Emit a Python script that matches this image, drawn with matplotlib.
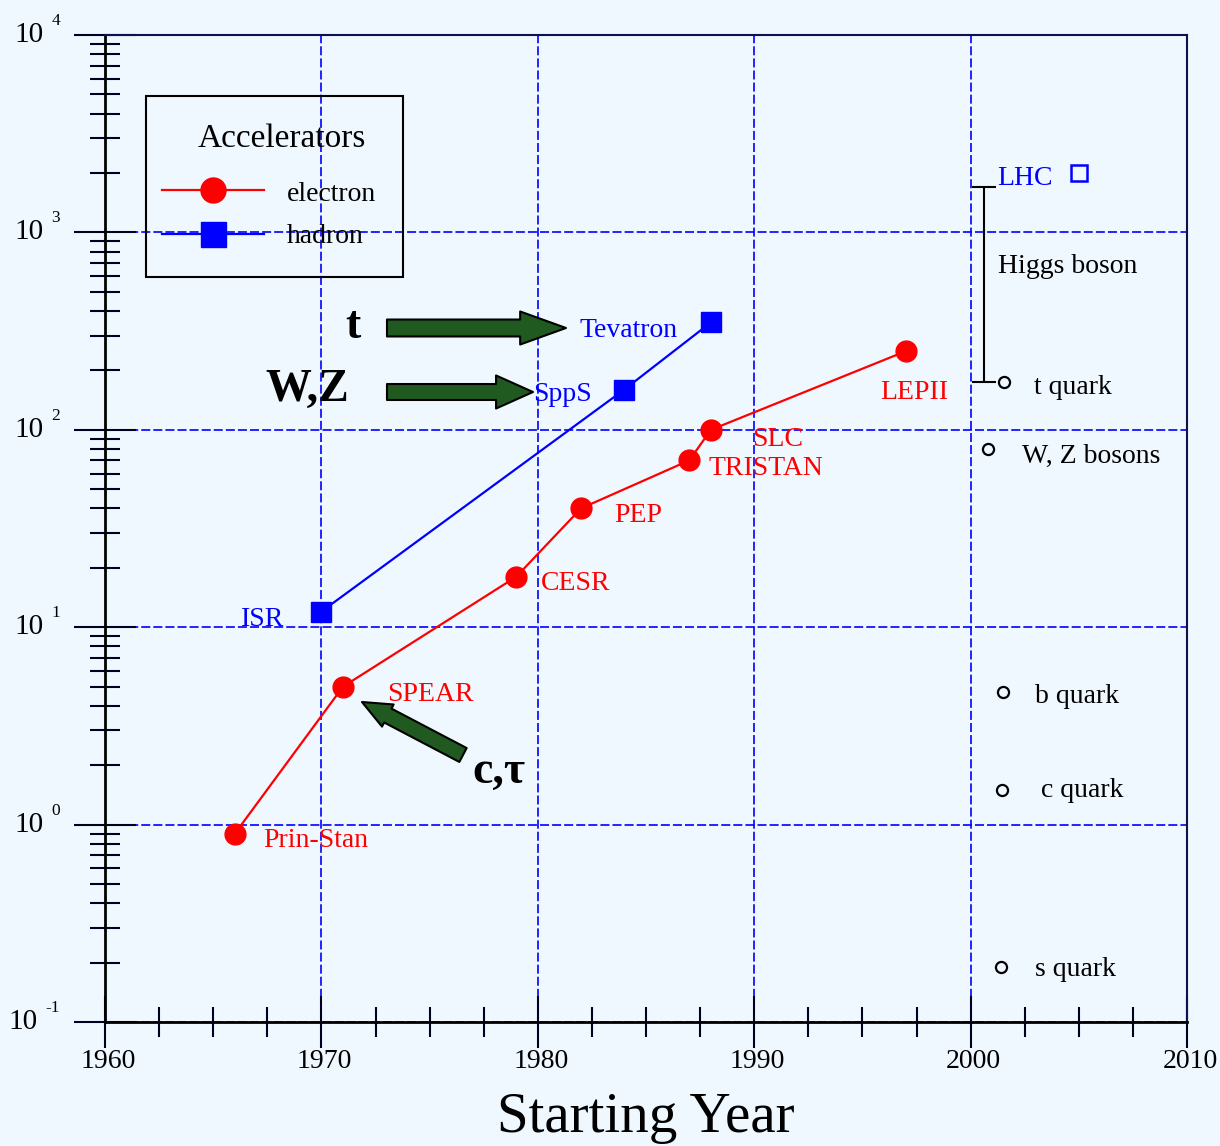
import matplotlib
matplotlib.use("Agg")
import matplotlib.pyplot as plt
from matplotlib.lines import Line2D
from matplotlib.patches import FancyArrowPatch, Rectangle
from matplotlib.ticker import LogLocator, NullFormatter, FixedLocator
from matplotlib.transforms import offset_copy, ScaledTranslation
import numpy as np

plt.rcParams["font.family"] = ["Liberation Serif", "DejaVu Serif"]
plt.rcParams["lines.scale_dashes"] = False

# ---- data -------------------------------------------------------------
electron_year = [1966, 1971, 1979, 1982, 1987, 1988, 1997]
electron_energy = [0.9, 5, 18, 40, 70, 100, 250]
electron_names = ["Prin-Stan", "SPEAR", "CESR", "PEP", "TRISTAN", "SLC", "LEPII"]

hadron_year = [1970, 1984, 1988]
hadron_energy = [12, 160, 350]
hadron_names = ["ISR", "SppS", "Tevatron"]

lhc_year = 2005
lhc_energy = 2000

particle_names = ["s quark", "c quark", "b quark", "W, Z bosons", "t quark"]
particle_mass = [0.19, 1.5, 4.7, 80, 175]
particle_x = [2001.4, 2001.45, 2001.5, 2000.8, 2001.55]

higgs_x = 2000.6
higgs_range = [175, 1700]

decades = [-1, 0, 1, 2, 3, 4]
year_ticks = [1960, 1970, 1980, 1990, 2000, 2010]

# ---- figure -----------------------------------------------------------
W, H = 1220, 1146
BG = "#F0F8FF"
fig = plt.figure(figsize=(W / 100, H / 100), dpi=100, facecolor=BG)
ax = fig.add_axes([105 / W, 1 - 1022 / H, (1187 - 105) / W, (1022 - 35) / H])
ax.set_facecolor(BG)
ax.set_yscale("log")
ax.set_xlim(1960, 2010)
ax.set_ylim(10.0 ** decades[0], 10.0 ** decades[-1])

def px(x, y):
    """Figure-fraction position from pixel coordinates measured from top-left."""
    return (x / W, 1 - y / H)

# grid
ax.set_axisbelow(True)
ax.grid(True, which="major", color="#0000FF", linestyle=(0, (6.5, 2.2)), linewidth=1.2)

# ticks
ax.set_xticks(year_ticks)
ax.set_xticklabels([str(y) for y in year_ticks])
ax.xaxis.set_minor_locator(FixedLocator(np.arange(1960, 2010.1, 2.5)))
ax.set_yticks([10.0 ** d for d in decades])
ax.yaxis.set_minor_locator(LogLocator(base=10, subs=np.arange(2, 10)))
ax.yaxis.set_minor_formatter(NullFormatter())

ax.tick_params(axis="y", which="major", direction="inout", length=44, width=1.5,
               labelleft=False, color="#000020")
ax.tick_params(axis="y", which="minor", direction="inout", length=22, width=1.5,
               color="#000020")
ax.tick_params(axis="x", which="major", direction="inout", length=37, width=1.5,
               pad=1, labelsize=20, color="#000020")
ax.tick_params(axis="x", which="minor", direction="inout", length=21, width=1.5,
               color="#000020")
for lab in ax.get_xticklabels():
    lab.set_transform(lab.get_transform() + ScaledTranslation(0.03, 0, fig.dpi_scale_trans))

for side in ("top", "right"):
    ax.spines[side].set_color("#10104A")
    ax.spines[side].set_linewidth(1.5)
for side in ("left", "bottom"):
    ax.spines[side].set_color("black")
    ax.spines[side].set_linewidth(2)

ax.set_xlabel("Starting Year", fontsize=41, labelpad=13)

# power-of-ten labels: "10" with a raised exponent set apart by a small gap
renderer = fig.canvas.get_renderer()
ytrans = ax.get_yaxis_transform()
for d in decades:
    expo = ax.text(0, 10.0 ** d, str(d), fontsize=12.5, ha="right", va="baseline",
                   transform=offset_copy(ytrans, fig, x=-45, y=10, units="dots"))
    ew = expo.get_window_extent(renderer).width
    ax.text(0, 10.0 ** d, "10", fontsize=21, ha="right", va="baseline",
            transform=offset_copy(ytrans, fig, x=-45 - ew - 8, y=-7, units="dots"))

# ---- accelerator series ----------------------------------------------
ax.plot(electron_year, electron_energy, color="#FF0000", lw=1.6, marker="o",
        ms=15, mfc="#FF0000", mec="#FF0000", zorder=3)
ax.plot(hadron_year, hadron_energy, color="#0000FF", lw=1.6, marker="s",
        ms=14, mfc="#0000FF", mec="#0000FF", zorder=3)
ax.plot([lhc_year], [lhc_energy], linestyle="none", marker="s", ms=12,
        mfc="none", mec="#0000FF", mew=1.8, zorder=3)

e_offsets = [(28, -7), (44, -8), (25, -7), (33, -7), (19, -8), (41, -10), (-25, -41)]
for yr, en, name, off in zip(electron_year, electron_energy, electron_names, e_offsets):
    ax.annotate(name, (yr, en), xytext=off, textcoords="offset pixels",
                color="#FF0000", fontsize=20, ha="left", va="center")

h_offsets = [(-37, -8), (-32, -5), (-33, -8)]
for yr, en, name, off in zip(hadron_year, hadron_energy, hadron_names, h_offsets):
    ax.annotate(name, (yr, en), xytext=off, textcoords="offset pixels",
                color="#0000FF", fontsize=20, ha="right", va="center")
ax.annotate("LHC", (lhc_year, lhc_energy), xytext=(-26, -6), textcoords="offset pixels",
            color="#0000FF", fontsize=20, ha="right", va="center")

# ---- particle masses --------------------------------------------------
ax.plot(particle_x, particle_mass, linestyle="none", marker="o", ms=8,
        mfc="none", mec="black", mew=1.6, zorder=3)
p_offsets = [(34, -3), (39, -1), (32, -5), (34, -7), (30, -6)]
for xx, m, name, off in zip(particle_x, particle_mass, particle_names, p_offsets):
    ax.annotate(name, (xx, m), xytext=off, textcoords="offset pixels",
                color="black", fontsize=20, ha="left", va="center")

ax.errorbar([higgs_x], [higgs_range[0]],
            yerr=[[0], [higgs_range[1] - higgs_range[0]]],
            fmt="none", ecolor="black", elinewidth=1.5, capsize=8.6, capthick=1.5,
            zorder=3)
ax.annotate("Higgs boson", (higgs_x, higgs_range[1]),
            xytext=(14, -80), textcoords="offset pixels", color="black",
            fontsize=20, ha="left", va="center")

# ---- legend box -------------------------------------------------------
x0, y0, x1, y1 = px(146, 277) + px(403, 96)
fig.add_artist(Rectangle((x0, y0), x1 - x0, y1 - y0, transform=fig.transFigure,
                         facecolor="none", edgecolor="black", linewidth=1.5, zorder=4))
fig.text(*px(282, 147), "Accelerators", fontsize=24, ha="center", va="baseline")
legend_rows = [
    ("electron", "#FF0000", "o", 190, 201),
    ("hadron", "#0000FF", "s", 234, 243),
]
for label, col, mk, ly, base in legend_rows:
    xs = [px(162, ly)[0], px(213, ly)[0], px(264, ly)[0]]
    ys = [px(0, ly)[1]] * 3
    fig.add_artist(Line2D(xs, ys, transform=fig.transFigure, color=col, lw=1.6,
                          marker=mk, markevery=[1], ms=18, mfc=col, mec=col, zorder=4))
    fig.text(*px(287, base), label, fontsize=20, ha="left", va="baseline")

# ---- discovery arrows -------------------------------------------------
GREEN = "#215A21"

def big_arrow(tail, tip, tail_w, head_w, head_l):
    arrow = FancyArrowPatch(
        px(*tail), px(*tip), transform=fig.transFigure,
        arrowstyle=f"simple,head_length={head_l},head_width={head_w},tail_width={tail_w}",
        mutation_scale=1, shrinkA=0, shrinkB=0,
        facecolor=GREEN, edgecolor="black", linewidth=1.5, zorder=5)
    fig.add_artist(arrow)

big_arrow((387, 328), (566, 328), 12.2, 23.8, 33)
big_arrow((387, 392), (533, 392), 11.5, 23.8, 26.6)
big_arrow((463, 755), (362, 702), 11.3, 18, 21)

fig.text(*px(345, 338), "t", fontsize=33, fontweight="bold", ha="left", va="baseline")
fig.text(*px(265, 401), "W,Z", fontsize=33, fontweight="bold", ha="left", va="baseline")
fig.text(*px(472, 783), "c,τ", fontsize=33, fontweight="bold", ha="left", va="baseline")

fig.savefig("out.png", dpi=100, facecolor=BG)
